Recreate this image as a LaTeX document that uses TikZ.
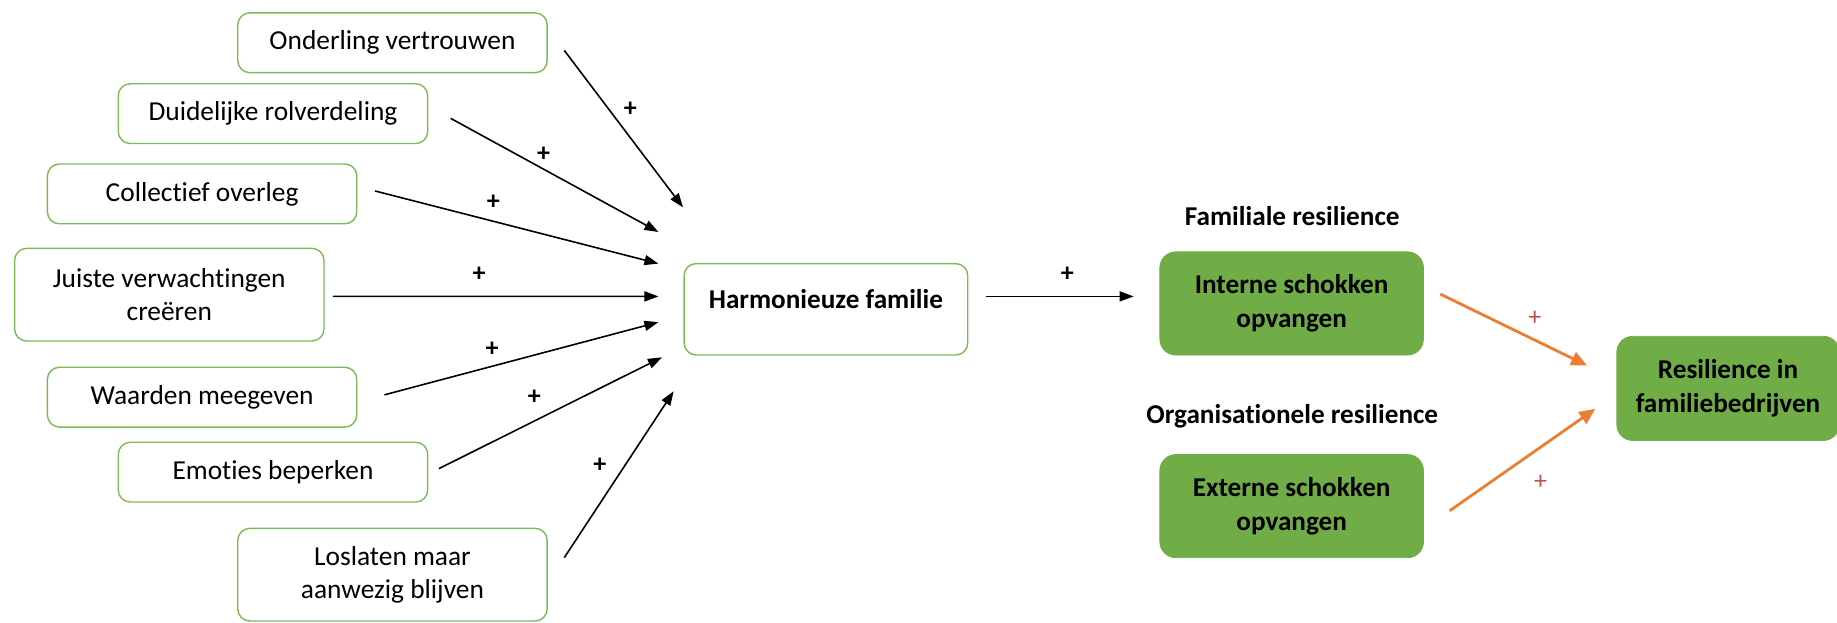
\documentclass[tikz,border=0pt]{standalone}
\usepackage{fontspec}
\setmainfont{Carlito}[Ligatures=NoCommon]
\usetikzlibrary{arrows.meta,calc}
\definecolor{boxline}{HTML}{7DBA55}
\definecolor{boxfill}{HTML}{70AD47}
\definecolor{arrorange}{HTML}{ED7D31}
\definecolor{plusred}{HTML}{C0504D}
\begin{document}
\begin{tikzpicture}[x=0.5858pt,y=-0.5858pt,
  factor/.style={draw=boxline, line width=0.7pt, rounded corners=6pt,
    minimum width=154.7pt, minimum height=29.9pt, align=center,
    font=\fontsize{13.7}{16.7}\selectfont, inner sep=0pt},
  tallfactor/.style={factor, minimum height=46.3pt},
  outcome/.style={fill=boxfill, draw=boxfill, rounded corners=8pt,
    minimum width=131.8pt, minimum height=51.6pt, align=center,
    font=\bfseries\fontsize{13.6}{16.7}\selectfont, inner sep=0pt},
  heading/.style={font=\bfseries\fontsize{13.6}{15}\selectfont, inner sep=0pt},
  arr/.style={line width=0.8pt, -{Triangle[length=7pt,width=5pt]}},
  oarr/.style={draw=arrorange, line width=1.4pt, -{Triangle[length=8pt,width=7pt]}},
  plus/.style={font=\bfseries\fontsize{13}{14}\selectfont, inner sep=0pt},
  rplus/.style={font=\fontsize{13}{14}\selectfont, text=plusred, inner sep=0pt}]
\useasboundingbox (0,0) rectangle (1568,531);

% contributing factors
\node[factor]     (on) at (335,36.5)  {Onderling vertrouwen};
\node[factor]     (dr) at (233,97)    {Duidelijke rolverdeling};
\node[factor]     (co) at (172.5,165.5) {Collectief overleg};
\node[tallfactor] (ju) at (144.5,251.5) {Juiste verwachtingen\\creëren};
\node[factor]     (wa) at (172.5,339) {Waarden meegeven};
\node[factor]     (em) at (233,403)   {Emoties beperken};
\node[tallfactor] (lo) at (335,490.5) {Loslaten maar\\aanwezig blijven};

% central box
\node[draw=boxline, line width=0.7pt, rounded corners=6pt,
      minimum width=141.8pt, minimum height=45.7pt, inner sep=0pt] (hf) at (705,264) {};
\node[heading] (hft) at (705,255) {Harmonieuze familie};

% resilience boxes
\node[heading] (fam) at (1103,184) {Familiale resilience};
\node[outcome] (in) at (1102.5,259) {Interne schokken\\opvangen};
\node[heading] (org) at (1103,355) {Organisationele resilience};
\node[outcome] (ex) at (1102.5,432) {Externe schokken\\opvangen};
\node[outcome, minimum width=111.3pt, minimum height=52.1pt] (rs) at (1475,331.5) {Resilience in\\familiebedrijven};

% arrow targets in front of the central box
\coordinate (t1) at (583,177);
\coordinate (t2) at (562,198);
\coordinate (t3) at (562,225);
\coordinate (t4) at (562,253);
\coordinate (t5) at (562,275);
\coordinate (t6) at (565,305);
\coordinate (t7) at (575,334);

\draw[arr] ($(on.east)+(14,6.5)$)  -- (t1);
\draw[arr] ($(dr.east)+(19,4)$)    -- (t2);
\draw[arr] ($(co.east)+(15,-2.5)$) -- (t3);
\draw[arr] ($(ju.east)+(7,1.5)$)   -- (t4);
\draw[arr] ($(wa.east)+(23,-2)$)   -- (t5);
\draw[arr] ($(em.east)+(9,-3)$)    -- (t6);
\draw[arr] ($(lo.east)+(14,-14.5)$) -- (t7);

\node[plus] (p1) at (538,93)  {+};
\node[plus] (p2) at (464,132) {+};
\node[plus] (p3) at (421,173) {+};
\node[plus] (p4) at (409,234) {+};
\node[plus] (p5) at (420,298) {+};
\node[plus] (p6) at (456,339) {+};
\node[plus] (p7) at (512,397) {+};

\draw[arr] ($(hf.east)+(15,-11)$) -- ($(in.west)+(-22,-6)$);
\node[plus] (p8) at (911,234) {+};

\draw[oarr] ($(in.east)+(14,-8)$) -- ($(rs.west)+(-25,-19.5)$);
\draw[oarr] ($(ex.east)+(22,4)$)  -- ($(rs.west)+(-18,17.5)$);
\node[rplus] (p9)  at (1310,272) {+};
\node[rplus] (p10) at (1315,412) {+};
\end{tikzpicture}
\end{document}
